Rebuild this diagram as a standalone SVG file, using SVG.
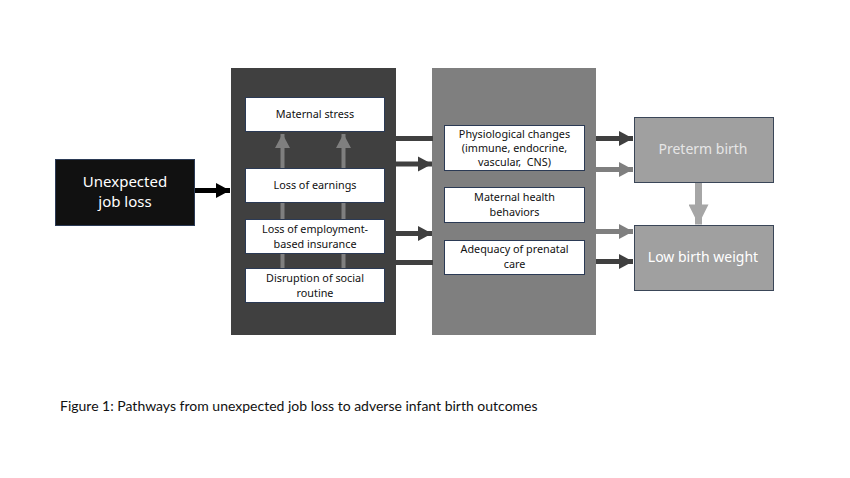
<svg xmlns="http://www.w3.org/2000/svg" width="850" height="478" viewBox="0 0 850 478">
<defs>
<style>
.t{font-family:"Noto Sans",Lato,"Liberation Sans",sans-serif;text-anchor:middle}
.s{font-size:10.8px;fill:#111}
.wb{fill:#fff;stroke:#2b3a55;stroke-width:1}
</style>
<marker id="hk" markerUnits="userSpaceOnUse" markerWidth="16" markerHeight="16" viewBox="0 0 16 16" refX="15" refY="8" orient="auto"><path d="M1,0.5 L15,8 L1,15.5 Z" fill="#000"/></marker>
<marker id="hd" markerUnits="userSpaceOnUse" markerWidth="16" markerHeight="16" viewBox="0 0 16 16" refX="15" refY="8" orient="auto"><path d="M1,0.5 L15,8 L1,15.5 Z" fill="#3f3f3f"/></marker>
<marker id="hg" markerUnits="userSpaceOnUse" markerWidth="16" markerHeight="16" viewBox="0 0 16 16" refX="15" refY="8" orient="auto"><path d="M1,0.5 L15,8 L1,15.5 Z" fill="#7f7f7f"/></marker>
<marker id="hl" markerUnits="userSpaceOnUse" markerWidth="22" markerHeight="20" viewBox="0 0 22 20" refX="21" refY="10" orient="auto"><path d="M1,0 L21,10 L1,20 Z" fill="#a6a6a6"/></marker>
</defs>
<rect width="850" height="478" fill="#fff"/>

<g id="panel-mediators">
<rect x="231" y="68" width="165" height="267" fill="#404040"/>
</g>
<g id="panel-mechanisms">
<rect x="432" y="68" width="164" height="267" fill="#7f7f7f"/>
</g>

<g id="connectors">
<line x1="195" y1="190.5" x2="230" y2="190.5" stroke="#000" stroke-width="5" marker-end="url(#hk)"/>
<line x1="282.5" y1="168" x2="282.5" y2="134" stroke="#7f7f7f" stroke-width="4" marker-end="url(#hg)"/>
<line x1="343.5" y1="168" x2="343.5" y2="134" stroke="#7f7f7f" stroke-width="4" marker-end="url(#hg)"/>
<line x1="282.5" y1="202" x2="282.5" y2="269" stroke="#7f7f7f" stroke-width="4"/>
<line x1="343.5" y1="202" x2="343.5" y2="269" stroke="#7f7f7f" stroke-width="4"/>
<line x1="395" y1="138.5" x2="433" y2="138.5" stroke="#404040" stroke-width="5"/>
<line x1="395" y1="164" x2="432" y2="164" stroke="#404040" stroke-width="5" marker-end="url(#hd)"/>
<line x1="395" y1="233.5" x2="432" y2="233.5" stroke="#404040" stroke-width="5" marker-end="url(#hd)"/>
<line x1="395" y1="262.5" x2="433" y2="262.5" stroke="#404040" stroke-width="5"/>
<line x1="596" y1="138.5" x2="633" y2="138.5" stroke="#3f3f3f" stroke-width="5" marker-end="url(#hd)"/>
<line x1="596" y1="169.5" x2="633" y2="169.5" stroke="#7f7f7f" stroke-width="5" marker-end="url(#hg)"/>
<line x1="596" y1="231.5" x2="633" y2="231.5" stroke="#7f7f7f" stroke-width="5" marker-end="url(#hg)"/>
<line x1="596" y1="261.5" x2="633" y2="261.5" stroke="#3f3f3f" stroke-width="5" marker-end="url(#hd)"/>
<line x1="698.5" y1="182" x2="698.5" y2="224.5" stroke="#a6a6a6" stroke-width="7" marker-end="url(#hl)"/>
</g>

<g id="job-loss">
<rect x="55.5" y="159.5" width="139" height="66" fill="#111" stroke="#2b3a55" stroke-width="1"/>
<text class="t" x="125" y="187" font-size="15" fill="#fff">Unexpected</text>
<text class="t" x="125" y="207" font-size="15" fill="#fff">job loss</text>
</g>

<g id="maternal-stress">
<rect class="wb" x="245.5" y="97.5" width="139" height="34"/>
<text class="t s" x="315" y="118">Maternal stress</text>
</g>
<g id="loss-earnings">
<rect class="wb" x="245.5" y="168.5" width="139" height="34"/>
<text class="t s" x="315" y="189">Loss of earnings</text>
</g>
<g id="loss-insurance">
<rect class="wb" x="245.5" y="219.5" width="139" height="34"/>
<text class="t s" x="315" y="232.5">Loss of employment-</text>
<text class="t s" x="315" y="247.5">based insurance</text>
</g>
<g id="disruption">
<rect class="wb" x="245.5" y="268.5" width="139" height="34"/>
<text class="t s" x="315" y="281.5">Disruption of social</text>
<text class="t s" x="315" y="296.5">routine</text>
</g>

<g id="physiological">
<rect class="wb" x="444.5" y="125.5" width="140" height="45"/>
<text class="t s" x="514.5" y="137.5">Physiological changes</text>
<text class="t s" x="514.5" y="151.5">(immune, endocrine,</text>
<text class="t s" x="514.5" y="165.5">vascular,&#160; CNS)</text>
</g>
<g id="health-behaviors">
<rect class="wb" x="444.5" y="187.5" width="140" height="35"/>
<text class="t s" x="514.5" y="200.5">Maternal health</text>
<text class="t s" x="514.5" y="215.5">behaviors</text>
</g>
<g id="prenatal-care">
<rect class="wb" x="444.5" y="240.5" width="140" height="34"/>
<text class="t s" x="514.5" y="253">Adequacy of prenatal</text>
<text class="t s" x="514.5" y="268">care</text>
</g>

<g id="preterm">
<rect x="634.5" y="117.5" width="139" height="65" fill="#a0a0a0" stroke="#3a4658" stroke-width="1"/>
<text class="t" x="703" y="153.5" font-size="14" fill="#e6e6e6">Preterm birth</text>
</g>
<g id="low-birth-weight">
<rect x="634.5" y="225.5" width="139" height="65" fill="#a0a0a0" stroke="#3a4658" stroke-width="1"/>
<text class="t" x="703" y="261.5" font-size="14" fill="#fff">Low birth weight</text>
</g>

<text x="60" y="411" font-family="Lato,'Noto Sans','Liberation Sans',sans-serif" font-size="14" fill="#111">Figure 1: Pathways from unexpected job loss to adverse infant birth outcomes</text>
</svg>
